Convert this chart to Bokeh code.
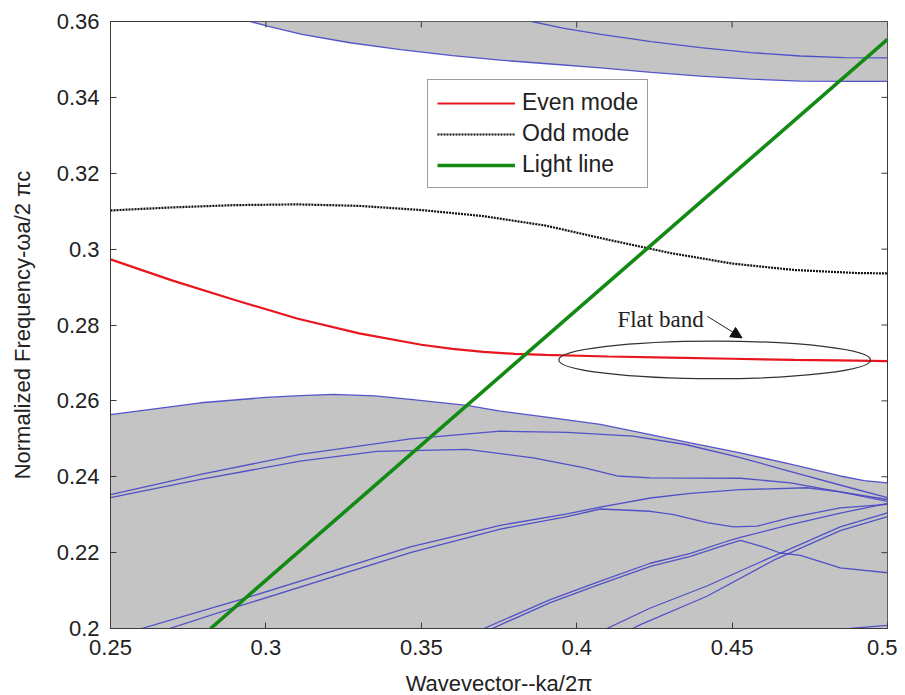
from bokeh.plotting import figure
from bokeh.models import (FixedTicker, Legend, LegendItem, Arrow, NormalHead, Label, Range1d)
from bokeh.embed import file_html
from bokeh.resources import INLINE

# ---------------- data ----------------
x_ticks = [0.25, 0.3, 0.35, 0.4, 0.45, 0.5]
x_tick_labels = ["0.25", "0.3", "0.35", "0.4", "0.45", "0.5"]
y_ticks = [0.2, 0.22, 0.24, 0.26, 0.28, 0.3, 0.32, 0.34, 0.36]
y_tick_labels = ["0.2", "0.22", "0.24", "0.26", "0.28", "0.3", "0.32", "0.34", "0.36"]

even_k = [0.25, 0.27, 0.29, 0.31, 0.33, 0.35, 0.36, 0.37, 0.38, 0.39, 0.41, 0.43, 0.45, 0.47, 0.49, 0.50]
even_f = [0.2973, 0.2917, 0.2866, 0.2817, 0.2778, 0.2748, 0.2737, 0.2729, 0.2724, 0.2721, 0.2717, 0.2714,
          0.2711, 0.2708, 0.2706, 0.2705]

odd_k = [0.25, 0.27, 0.29, 0.31, 0.33, 0.35, 0.37, 0.39, 0.41, 0.43, 0.45, 0.47, 0.49, 0.50]
odd_f = [0.3102, 0.3110, 0.3116, 0.3118, 0.3114, 0.3103, 0.3087, 0.3062, 0.3025, 0.2990, 0.2962, 0.2945, 0.2937, 0.2936]

light_k = [0.2822, 0.5]
light_f = [0.2, 0.3553]

# lower continuum (shaded) upper edge
low_edge_k = [0.25, 0.279, 0.30, 0.311, 0.3218, 0.335, 0.3465, 0.3647, 0.3754, 0.3915, 0.4076, 0.4237,
              0.4366, 0.4526, 0.4688, 0.4848, 0.4925, 0.5]
low_edge_f = [0.2564, 0.2595, 0.2609, 0.2614, 0.2617, 0.2613, 0.2604, 0.2588, 0.2573, 0.2556, 0.2538, 0.2511,
              0.2489, 0.2463, 0.2433, 0.2402, 0.2390, 0.2384]

# upper continuum (shaded) lower edge
up_edge_k = [0.295, 0.3005, 0.3116, 0.3270, 0.3433, 0.3600, 0.3755, 0.3916, 0.4077, 0.4240, 0.4398, 0.4560,
             0.4720, 0.4860, 0.5]
up_edge_f = [0.3600, 0.3588, 0.3566, 0.3544, 0.3526, 0.3510, 0.3498, 0.3488, 0.3478, 0.3466, 0.3456, 0.3448,
             0.3443, 0.3442, 0.3442]

# other bands inside the continua
up_band2_k = [0.3855, 0.3960, 0.4077, 0.4240, 0.4398, 0.4560, 0.4720, 0.4860, 0.5]
up_band2_f = [0.3600, 0.3582, 0.3566, 0.3547, 0.3531, 0.3518, 0.3509, 0.3505, 0.3504]

band_a_k = [0.25, 0.279, 0.311, 0.3465, 0.3754, 0.397, 0.418, 0.435, 0.452, 0.4665, 0.488, 0.5]
band_a_f = [0.2353, 0.2406, 0.2459, 0.2500, 0.2520, 0.2517, 0.2507, 0.2485, 0.2452, 0.2419, 0.2371, 0.2345]

band_b_k = [0.25, 0.279, 0.311, 0.3358, 0.3647, 0.386, 0.4022, 0.413, 0.4237, 0.4527, 0.4688, 0.4848, 0.5]
band_b_f = [0.2345, 0.2393, 0.2441, 0.2467, 0.2472, 0.2450, 0.2424, 0.2402, 0.2397, 0.2396, 0.2384, 0.2360, 0.2340]

band_c_k = [0.2600, 0.2918, 0.3465, 0.3754, 0.3969, 0.4076, 0.4237, 0.4366, 0.4527, 0.4741, 0.4848, 0.5]
band_c_f = [0.2000, 0.2076, 0.2215, 0.2272, 0.2302, 0.2320, 0.2344, 0.2356, 0.2366, 0.2371, 0.2360, 0.2335]

band_d_k = [0.2690, 0.2918, 0.3465, 0.3754, 0.3969, 0.4076, 0.4237, 0.4312, 0.4419, 0.4505, 0.458, 0.4688,
            0.4848, 0.5]
band_d_f = [0.2000, 0.2060, 0.2200, 0.2262, 0.2295, 0.2315, 0.2309, 0.2300, 0.2279, 0.2268, 0.2270, 0.2292,
            0.2318, 0.2327]

band_e_k = [0.3701, 0.3915, 0.4076, 0.4237, 0.4366, 0.4484, 0.4527, 0.4688, 0.4848, 0.5]
band_e_f = [0.2000, 0.2076, 0.2125, 0.2172, 0.2198, 0.2230, 0.2240, 0.2274, 0.2304, 0.2330]

band_g_k = [0.3728, 0.3915, 0.4076, 0.4237, 0.4366, 0.4484, 0.4527, 0.4600, 0.4655, 0.4720, 0.4848, 0.5]
band_g_f = [0.2000, 0.2068, 0.2117, 0.2164, 0.2190, 0.2222, 0.2232, 0.2215, 0.2199, 0.2193, 0.2160, 0.2147]

band_h1_k = [0.4097, 0.4237, 0.4419, 0.4634, 0.4848, 0.5]
band_h1_f = [0.2000, 0.2054, 0.2112, 0.2191, 0.2268, 0.2305]

band_h2_k = [0.4180, 0.4205, 0.4419, 0.4634, 0.4848, 0.5]
band_h2_f = [0.2000, 0.2010, 0.2085, 0.2180, 0.2258, 0.2295]

band_i_k = [0.488, 0.5]
band_i_f = [0.2000, 0.2008]

# annotation
flat_band_center = (0.4444, 0.2708)
flat_band_size = (0.1003, 0.0099)
flat_text_pos = (0.4131, 0.2815)
arrow_from = (0.4420, 0.2823)
arrow_to = (0.4532, 0.2766)

X_RANGE = (0.25, 0.5)
Y_RANGE = (0.2, 0.36)

# ---------------- figure ----------------
FW, FH = 777, 607
p = figure(frame_width=FW, frame_height=FH,
           min_border_left=110, min_border_right=10, min_border_top=21, min_border_bottom=66,
           x_range=Range1d(*X_RANGE), y_range=Range1d(*Y_RANGE),
           output_backend="svg", toolbar_location=None,
           background_fill_color="white", border_fill_color="white")
p.grid.visible = False
p.outline_line_color = "#3a3a3a"
p.outline_line_width = 1

GRAY = "#c4c4c4"
BLUE = "#4545c8"

p.varea(x=low_edge_k, y1=Y_RANGE[0], y2=low_edge_f, fill_color=GRAY)
p.varea(x=up_edge_k, y1=up_edge_f, y2=Y_RANGE[1], fill_color=GRAY)

for kk, ff in [(low_edge_k, low_edge_f), (up_edge_k, up_edge_f), (up_band2_k, up_band2_f),
               (band_a_k, band_a_f), (band_b_k, band_b_f), (band_c_k, band_c_f), (band_d_k, band_d_f),
               (band_e_k, band_e_f), (band_g_k, band_g_f), (band_h1_k, band_h1_f), (band_h2_k, band_h2_f),
               (band_i_k, band_i_f)]:
    p.line(kk, ff, line_color=BLUE, line_width=1.3, line_alpha=0.9)

r_even = p.line(even_k, even_f, line_color="#e8161e", line_width=2.2)
r_odd = p.line(odd_k, odd_f, line_color="#111111", line_width=2.2, line_dash="2 1")
r_light = p.line(light_k, light_f, line_color="#138a13", line_width=3.6)

# flat band annotation
p.ellipse(x=[flat_band_center[0]], y=[flat_band_center[1]], width=[flat_band_size[0]],
          height=[flat_band_size[1]], fill_color=None, line_color="#333333", line_width=1.2)
p.add_layout(Arrow(end=NormalHead(size=11, fill_color="#111111", line_color="#111111"),
                   x_start=arrow_from[0], y_start=arrow_from[1], x_end=arrow_to[0], y_end=arrow_to[1],
                   line_color="#222222", line_width=1))
p.add_layout(Label(x=flat_text_pos[0], y=flat_text_pos[1], text="Flat band",
                   text_font="Liberation Serif", text_font_size="23px", text_baseline="middle",
                   text_color="#222222"))

# inward ticks on top and right edges (box style)
tlx = 6 * (X_RANGE[1] - X_RANGE[0]) / FW
tly = 6 * (Y_RANGE[1] - Y_RANGE[0]) / FH
p.segment(x0=x_ticks, y0=[Y_RANGE[1]] * len(x_ticks), x1=x_ticks, y1=[Y_RANGE[1] - tly] * len(x_ticks),
          line_color="#3a3a3a", line_width=1)
p.segment(x0=[X_RANGE[1]] * len(y_ticks), y0=y_ticks, x1=[X_RANGE[1] - tlx] * len(y_ticks), y1=y_ticks,
          line_color="#3a3a3a", line_width=1)

# axes
for ax, ticks, labels in [(p.xaxis[0], x_ticks, x_tick_labels), (p.yaxis[0], y_ticks, y_tick_labels)]:
    ax.ticker = FixedTicker(ticks=ticks)
    ax.major_label_overrides = {t: l for t, l in zip(ticks, labels)}
    ax.minor_tick_line_color = None
    ax.major_tick_in = 6
    ax.major_tick_out = 0
    ax.axis_line_color = "#3a3a3a"
    ax.major_tick_line_color = "#3a3a3a"
    ax.major_label_text_font = "Liberation Sans"
    ax.major_label_text_font_size = "22px"
    ax.major_label_text_color = "#222222"
    ax.axis_label_text_font = "Liberation Sans"
    ax.axis_label_text_font_size = "22px"
    ax.axis_label_text_font_style = "normal"
    ax.axis_label_text_color = "#222222"

p.xaxis.axis_label = "Wavevector--ka/2π"
p.yaxis.axis_label = "Normalized Frequency-ωa/2 πc"
p.xaxis.major_label_standoff = 11
p.xaxis.axis_label_standoff = 13
p.yaxis.major_label_standoff = 11
p.yaxis.axis_label_standoff = 19

legend = Legend(items=[LegendItem(label="Even mode", renderers=[r_even]),
                       LegendItem(label="Odd mode", renderers=[r_odd]),
                       LegendItem(label="Light line", renderers=[r_light])],
                location=(317, 440), orientation="vertical",
                label_text_font="Liberation Sans", label_text_font_size="23px", label_text_color="#222222",
                glyph_width=78, glyph_height=24, label_standoff=7, spacing=4, padding=9, margin=0,
                border_line_color="#3a3a3a", border_line_width=1,
                background_fill_color="white", background_fill_alpha=1)
p.add_layout(legend, "center")

open("out.html", "w").write(file_html(p, INLINE))
